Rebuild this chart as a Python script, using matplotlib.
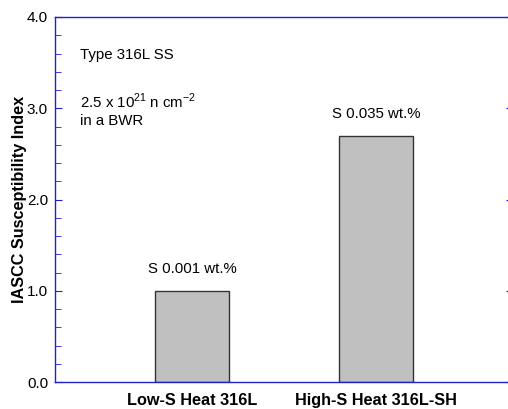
import matplotlib.pyplot as plt
from matplotlib.ticker import MultipleLocator

plt.rcParams['font.family'] = ['Liberation Sans', 'DejaVu Sans']
plt.rcParams['mathtext.fontset'] = 'custom'
plt.rcParams['mathtext.rm'] = 'Liberation Sans'

# data
heats = ['Low-S Heat 316L', 'High-S Heat 316L-SH']
index = [1.0, 2.7]
sulfur = ['S 0.001 wt.%', 'S 0.035 wt.%']

fig = plt.figure(figsize=(5.08, 4.09), dpi=100)
ax = fig.add_axes([55/508, 1 - 382/409, 455/508, 365/409])

x = range(len(heats))
ax.bar(x, index, width=0.40, color='#c0c0c0', edgecolor='#333333', linewidth=1.0, zorder=2)

for xi, v, s in zip(x, index, sulfur):
    ax.text(xi, v + 0.16, s, ha='center', va='bottom', fontsize=10.8)

ax.set_xlim(-0.745, 1.728)
ax.set_ylim(0, 4.0)
ax.set_xticks(list(x))
ax.set_xticklabels(heats, fontsize=11.7, fontweight='bold')
ax.yaxis.set_major_locator(MultipleLocator(1.0))
ax.yaxis.set_minor_locator(MultipleLocator(0.2))
ax.yaxis.set_major_formatter(plt.FormatStrFormatter('%.1f'))
ax.set_ylabel('IASCC Susceptibility Index', fontsize=11.7, fontweight='bold', labelpad=0)

blue = '#2020d0'
for sp in ['left', 'bottom', 'top']:
    ax.spines[sp].set_color(blue)
    ax.spines[sp].set_linewidth(1.0)
ax.spines['right'].set_visible(False)

ax.tick_params(axis='y', which='major', direction='in', length=5, color=blue,
               labelsize=11, pad=5)
ax.tick_params(axis='y', which='minor', direction='in', length=4, color=blue)
ax.tick_params(axis='y', which='major', right=True, labelright=False)
ax.tick_params(axis='x', length=0, pad=8)
# right ticks are only tiny marks at the plot edge
for t in ax.yaxis.get_major_ticks():
    t.tick2line.set_markersize(3)
    t.tick2line.set_color(blue)
    t.tick2line.set_markeredgecolor(blue)

ax.text(0.055, 0.885, 'Type 316L SS', transform=ax.transAxes, fontsize=10.8)
ax.text(0.055, 0.752, r'2.5 x 10$^{21}$ n cm$^{\mathregular{-2}}$', transform=ax.transAxes, fontsize=10.8)
ax.text(0.055, 0.705, 'in a BWR', transform=ax.transAxes, fontsize=10.8)

fig.savefig('out.png', dpi=100)
